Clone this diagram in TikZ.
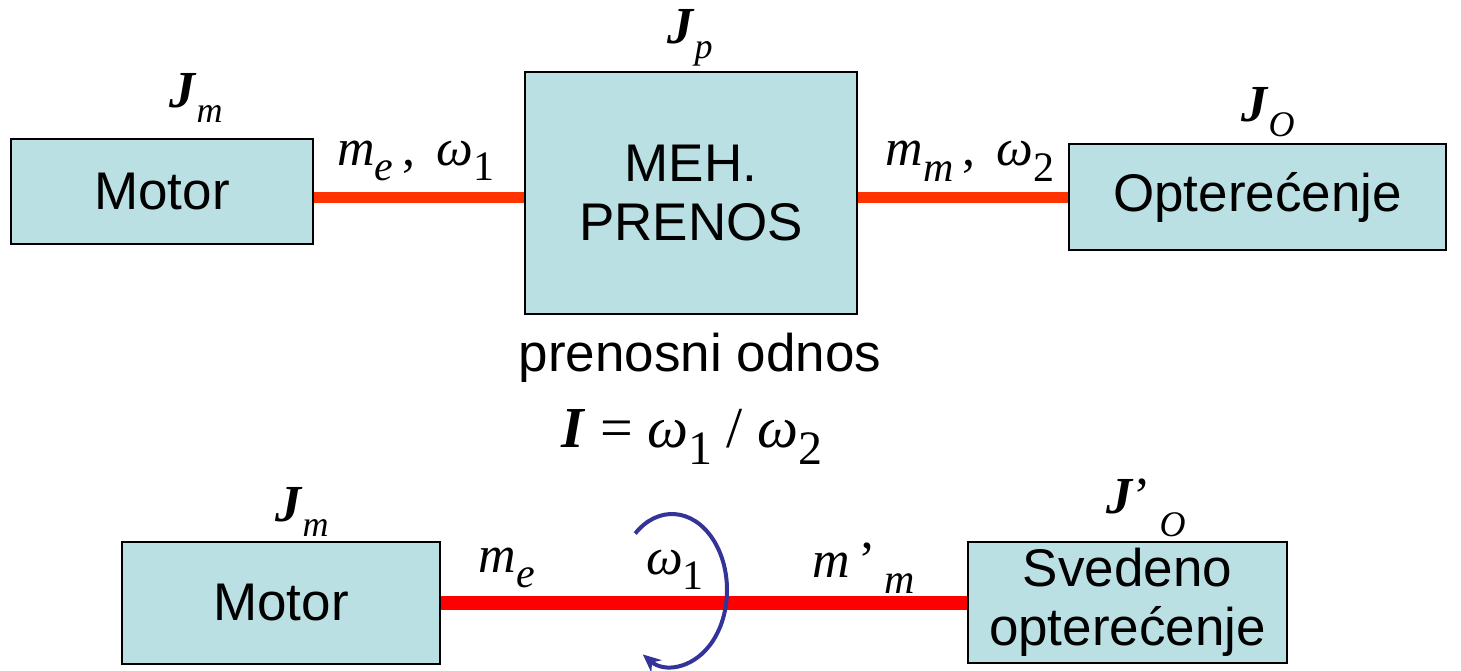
\documentclass[tikz,border=0pt]{standalone}
\usepackage{fontspec}
\setmainfont{Liberation Serif}
\newfontfamily\arialf{Liberation Sans}
\usetikzlibrary{arrows.meta}
\definecolor{boxfill}{HTML}{BBE0E3}
\definecolor{linered}{HTML}{FF3300}
\definecolor{linered2}{HTML}{FF0000}
\definecolor{arcblue}{HTML}{333399}
\def\subsz{20}
\newcommand\ms[2]{#1\raisebox{-0.3em}{\fontsize{\subsz}{\subsz}\selectfont #2}}
\newcommand\bJ{\textbf{\textit{J}}}
\begin{document}
\begin{tikzpicture}[x=0.5pt,y=-0.5pt,
  blk/.style={draw=black,line width=0.8pt,fill=boxfill,inner sep=0pt,align=center,
    font=\arialf\fontsize{26.5}{29.5}\selectfont},
  jlab/.style={inner sep=0pt,font=\fontsize{26}{30}\selectfont\def\subsz{18}},
  mlab/.style={inner sep=0pt,font=\fontsize{26}{30}\selectfont\def\subsz{21}},
  eqlab/.style={inner sep=0pt,font=\fontsize{29}{32}\selectfont\def\subsz{24}},
  sanslab/.style={inner sep=0pt,font=\arialf\fontsize{26.5}{30}\selectfont},
  shaftA/.style={draw=linered,line width=5.5pt},
  shaftB/.style={draw=linered2,line width=7pt},
  rotarr/.style={draw=arcblue,line width=2pt,-{Stealth[length=9pt,width=8pt]}}]
\useasboundingbox (0,0) rectangle (1461,670);
% top row
\node[blk,minimum width=151pt,minimum height=52.5pt] (m1) at (162,191.5) {\raisebox{-2pt}{Motor}};
\node[blk,minimum width=166pt,minimum height=121pt] (meh) at (691,193) {MEH.\\PRENOS};
\node[blk,minimum width=188.5pt,minimum height=53pt] (opt) at (1257.5,197) {\raisebox{-2pt}{Opterećenje}};
\draw[shaftA] (opt.west -| m1.east) -- (opt.west -| meh.west);
\draw[shaftA] (opt.west -| meh.east) -- (opt.west);
\node[jlab] (jm1) at (196,98) {\ms{\bJ}{\textit{m}}};
\node[jlab] (jp) at (690,38) {\ms{\bJ}{\textit{p}}};
\node[jlab] (jo) at (1268,112) {\ms{\bJ}{\textit{O}}};
\node[mlab] (l1) at (416,161) {\ms{\textit{m}}{\textit{e}}\,,\, \ms{\textit{ω}}{1}};
\node[mlab] (l2) at (970,161) {\ms{\textit{m}}{\textit{m}}\,,\, \ms{\textit{ω}}{2}};
\node[sanslab] (pr) at (700,358) {prenosni odnos};
\node[eqlab] (io) at (692,437) {\textbf{\textit{I}} = \ms{\textit{ω}}{1} / \ms{\textit{ω}}{2}};
% bottom row
\node[blk,minimum width=159pt,minimum height=61pt] (m2) at (281,603) {\raisebox{-2pt}{Motor}};
\node[blk,minimum width=159.5pt,minimum height=60.5pt] (sv) at (1127.5,602.5) {Svedeno\\opterećenje};
\draw[shaftB] (m2.east) -- (m2.east -| sv.west);
\node[jlab] (jm2) at (302,512) {\ms{\bJ}{\textit{m}}};
\node[mlab] (me) at (507,568) {\ms{\textit{m}}{\textit{e}}};
\node[mlab] (w1) at (675,570) {\ms{\textit{ω}}{1}};
\node[mlab] (mm) at (864,568) {\textit{m}\,’\,\raisebox{-0.3em}{\fontsize{21}{21}\selectfont\textit{m}}};
\node[jlab] (jo2) at (1146,508) {\bJ’\,\raisebox{-0.45em}{\fontsize{18}{18}\selectfont\textit{O}}};
\coordinate (ac) at (672,590);
\draw[rotarr] ([shift={(132:27.5pt and 38pt)}]ac) arc[start angle=132,end angle=-122,x radius=27.5pt,y radius=38pt];
\end{tikzpicture}
\end{document}
